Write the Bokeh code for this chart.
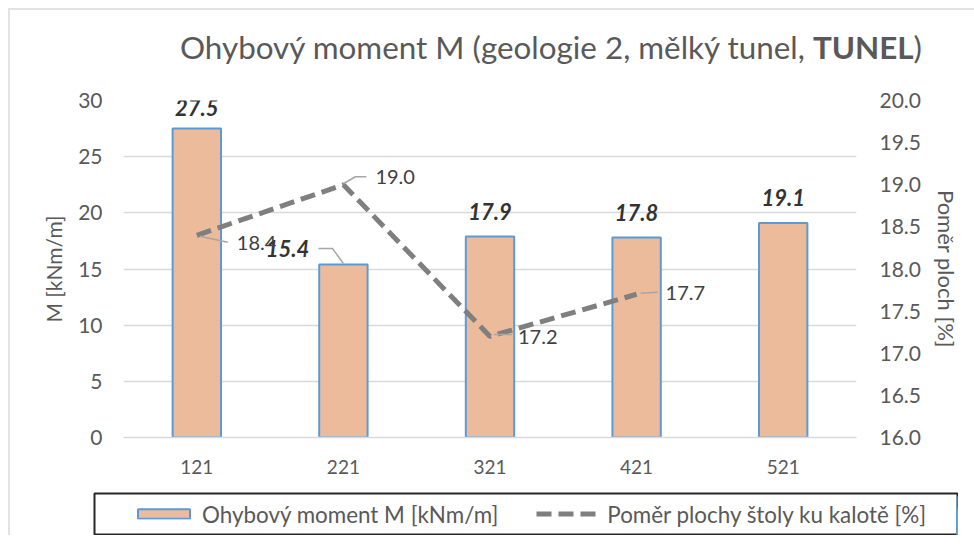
from bokeh.plotting import figure
from bokeh.layouts import column, row
from bokeh.models import (Range1d, LinearAxis, FixedTicker, Legend, LegendItem, Label,
                          NumeralTickFormatter, Div, Spacer)
from bokeh.embed import file_html
from bokeh.resources import INLINE

# ---- data ----
categories = ["121", "221", "321", "421", "521"]
moment = [27.5, 15.4, 17.9, 17.8, 19.1]            # Ohybový moment M [kNm/m]
ratio_categories = ["121", "221", "321", "421"]
ratio = [18.4, 19.0, 17.2, 17.7]                    # Poměr plochy štoly ku kalotě [%]
left_ticks = [0, 5, 10, 15, 20, 25, 30]
right_ticks = [16.0, 16.5, 17.0, 17.5, 18.0, 18.5, 19.0, 19.5, 20.0]
title_main = "Ohybový moment M (geologie 2, mělký tunel, "
title_bold = "TUNEL"
legend_bar = "Ohybový moment M [kNm/m]"
legend_line = "Poměr plochy štoly ku kalotě [%]"

# ---- layout (pixels) ----
FW, FH = 733, 337
BL, BR, BT, BB = 113, 112, 16, 55
YL = (0, 30)
YR = (16, 20)
pxx = FW / len(categories)
pyl = FH / (YL[1] - YL[0])
pyr = FH / (YR[1] - YR[0])
FONT = "Lato"
GREY = "#595959"
BAR_FILL, BAR_LINE = "#EBBB9B", "#5B9BD5"
LINE_COLOR, LINE_DASH = "#7F7F7F", "15 7"

def xi(cat):
    return categories.index(cat) + 0.5

title = Div(text=f"{title_main}<b>{title_bold}</b>)", width=BL + FW + BR, height=64,
            styles={"font-family": FONT, "font-size": "31.4px", "color": GREY,
                    "line-height": "64px", "padding-left": "165px", "white-space": "nowrap"})

p = figure(frame_width=FW, frame_height=FH, min_border_left=BL, min_border_right=BR,
           min_border_top=BT, min_border_bottom=BB,
           x_range=Range1d(0, len(categories)), y_range=Range1d(*YL),
           output_backend="svg", toolbar_location=None, tools="")
p.extra_y_ranges = {"r": Range1d(*YR)}
p.outline_line_color = None
p.background_fill_color = "white"
p.border_fill_color = "white"

# axes
p.xaxis.ticker = FixedTicker(ticks=[i + 0.5 for i in range(len(categories))])
p.xaxis.major_label_overrides = {i + 0.5: c for i, c in enumerate(categories)}
p.xaxis.axis_line_color = "#d9d9d9"
p.xaxis.axis_line_width = 1.5
p.xaxis.major_tick_line_color = None
p.xaxis.minor_tick_line_color = None
p.xaxis.major_label_standoff = 16
p.xaxis.major_label_text_font = FONT
p.xaxis.major_label_text_font_size = "19px"
p.xaxis.major_label_text_color = GREY

p.yaxis.ticker = FixedTicker(ticks=left_ticks)
p.yaxis.axis_line_color = None
p.yaxis.major_tick_line_color = None
p.yaxis.minor_tick_line_color = None
p.yaxis.major_label_standoff = 15
p.yaxis.major_label_text_font = FONT
p.yaxis.major_label_text_font_size = "21px"
p.yaxis.major_label_text_color = GREY
p.yaxis.axis_label = "M [kNm/m]"
p.yaxis.axis_label_text_font = FONT
p.yaxis.axis_label_text_font_style = "normal"
p.yaxis.axis_label_text_font_size = "21px"
p.yaxis.axis_label_text_color = GREY
p.yaxis.axis_label_standoff = 9

ra = LinearAxis(y_range_name="r", ticker=FixedTicker(ticks=right_ticks),
                formatter=NumeralTickFormatter(format="0.0"))
ra.axis_line_color = None
ra.major_tick_line_color = None
ra.minor_tick_line_color = None
ra.major_label_standoff = 17
ra.major_label_text_font = FONT
ra.major_label_text_font_size = "21px"
ra.major_label_text_color = GREY
ra.axis_label = "Poměr ploch [%]"
ra.axis_label_text_font = FONT
ra.axis_label_text_font_style = "normal"
ra.axis_label_text_font_size = "22px"
ra.axis_label_text_color = GREY
ra.axis_label_standoff = 9
p.add_layout(ra, "right")

p.xgrid.grid_line_color = None
p.ygrid.grid_line_color = "#d9d9d9"
p.ygrid.grid_line_width = 1.5

# bars
bx = [xi(c) for c in categories]
p.vbar(x=bx, top=moment, width=0.33, fill_color=BAR_FILL, line_color=BAR_LINE, line_width=2)

# line
lx = [xi(c) for c in ratio_categories]
p.line(x=lx, y=ratio, y_range_name="r", line_color=LINE_COLOR, line_width=5, line_dash=LINE_DASH)

# bar value labels (offsets in px from the bar top: dx, dy upward)
bar_off = [(0, 21), (-56, 16), (0, 25), (0, 25), (0, 25)]
for c, v, (dx, dy) in zip(categories, moment, bar_off):
    p.add_layout(Label(x=xi(c) + dx / pxx, y=v + dy / pyl, text=f"{v:.1f}",
                       text_align="center", text_baseline="middle",
                       text_font=FONT, text_font_style="bold italic",
                       text_font_size="22px", text_color="#333333"))
# leader for the moved 15.4 label
i = 1
xs = [xi(categories[i]) + d / pxx for d in (-25, -11, 0)]
ys = [moment[i] + d / pyl for d in (16, 16, 1)]
p.line(xs, ys, line_color="#A6A6A6", line_width=1.5)

# ratio value labels (dx to text left edge, dy upward)
ratio_off = [(40, -8), (32, 8), (28, -1), (29, 1)]
leaders = [[(3, -1), (31, -7)], [(0, 1), (12, 8), (23, 8)], [(4, 2), (22, 2)], [(4, 1), (21, 2)]]
for c, v, (dx, dy), ld in zip(ratio_categories, ratio, ratio_off, leaders):
    p.add_layout(Label(x=xi(c) + dx / pxx, y=v + dy / pyr, y_range_name="r",
                       text=f"{v:.1f}", text_align="left", text_baseline="middle",
                       text_font=FONT, text_font_size="20px", text_color="#404040"))
    p.line([xi(c) + a / pxx for a, b in ld], [v + b / pyr for a, b in ld],
           y_range_name="r", line_color="#A6A6A6", line_width=1.5)

# legend box (separate small figure so it may extend beyond the plot frame);
# its glyphs repeat the series but lie outside its visible x range
lg = figure(width=865, height=43, min_border=1, x_range=Range1d(-3, -2), y_range=Range1d(0, 30),
            x_axis_location=None, y_axis_location=None, output_backend="svg",
            toolbar_location=None, tools="")
lg.grid.grid_line_color = None
lg.outline_line_color = "#262626"
lg.outline_line_width = 2
lg.background_fill_color = "white"
lg.border_fill_color = "white"
r_bar = lg.vbar(x=bx, top=moment, width=0.33, fill_color=BAR_FILL, line_color=BAR_LINE, line_width=2)
r_line = lg.line(x=lx, y=ratio, line_color=LINE_COLOR, line_width=5, line_dash=LINE_DASH)
legend = Legend(items=[LegendItem(label=legend_bar, renderers=[r_bar]),
                       LegendItem(label=legend_line, renderers=[r_line])],
                orientation="horizontal", location="center_left", margin=37,
                border_line_color=None, background_fill_alpha=0,
                padding=0, spacing=38, glyph_width=65, glyph_height=12, label_height=12,
                label_standoff=6, label_text_font=FONT, label_text_font_size="22.4px",
                label_text_color=GREY)
lg.add_layout(legend, "center")

layout = column(title, p, row(Spacer(width=83, height=43), lg, spacing=0), spacing=0,
                styles={"margin-left": "8px", "margin-top": "8px",
                        "border-left": "2px solid #e3e3e3", "border-top": "2px solid #e3e3e3"})

open("out.html", "w").write(file_html(layout, INLINE))
